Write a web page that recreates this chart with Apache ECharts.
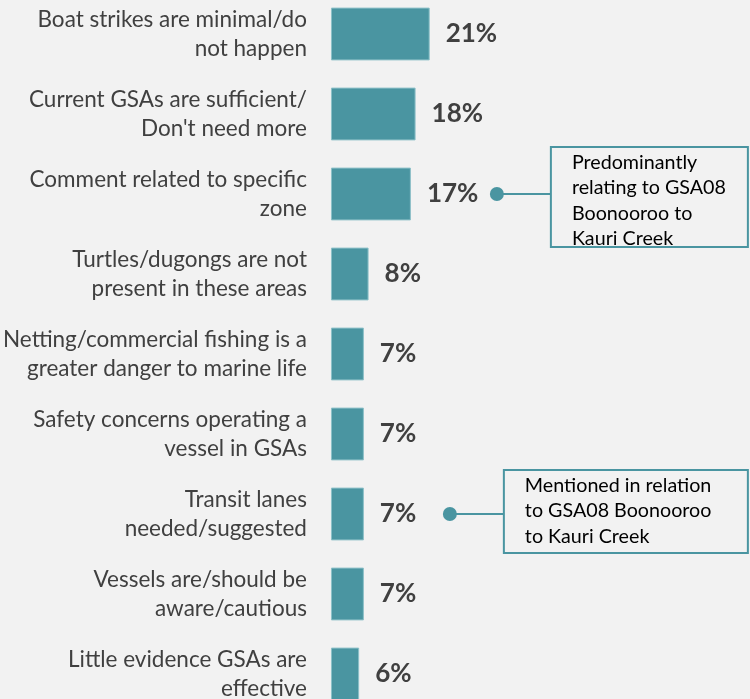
<!DOCTYPE html>
<html><head><meta charset="utf-8">
<script src="https://cdn.jsdelivr.net/npm/echarts@6/dist/echarts.min.js"></script>
<style>html,body{margin:0;padding:0;background:#F2F2F2;overflow:hidden}#c{width:750px;height:726px;margin-top:-6px}</style>
</head><body><div id="c"></div>
<script>
const categories = [
  'Boat strikes are minimal/do\nnot happen',
  'Current GSAs are sufficient/\nDon\'t need more',
  'Comment related to specific\nzone',
  'Turtles/dugongs are not\npresent in these areas',
  'Netting/commercial fishing is a\ngreater danger to marine life',
  'Safety concerns operating a\nvessel in GSAs',
  'Transit lanes\nneeded/suggested',
  'Vessels are/should be\naware/cautious',
  'Little evidence GSAs are\neffective'
];
const values = [21, 18, 17, 8, 7, 7, 7, 7, 6];
const notes = [
  {index: 2, text: 'Predominantly\nrelating to GSA08\nBoonooroo to\nKauri Creek', boxW: 197, top: -47, bottom: 53},
  {index: 6, text: 'Mentioned in relation\nto GSA08 Boonooroo\nto Kauri Creek', boxW: 244, top: -44, bottom: 39}
];
const FONT = 'Lato';
const teal = '#4A95A1';
const chart = echarts.init(document.getElementById('c'));
chart.setOption({
  backgroundColor: '#F2F2F2',
  animation: false,
  grid: {left: 327, top: 0, width: 145, height: 720, containLabel: false},
  xAxis: {type: 'value', min: 0, max: 30, show: false},
  yAxis: {
    type: 'category', data: categories, inverse: true,
    axisLine: {show: false}, axisTick: {show: false},
    axisLabel: {color: '#404040', fontFamily: FONT, fontSize: 22.5, lineHeight: 29, margin: 24, align: 'right'}
  },
  series: [{
    type: 'bar', data: values, barCategoryGap: '34%',
    itemStyle: {color: teal, borderColor: '#8CC0C8', borderWidth: 1},
    label: {show: true, position: 'right', distance: 16, formatter: '{c}%',
      color: '#404040', fontFamily: FONT, fontWeight: 'bold', fontSize: 26}
  }]
});
const g = [];
notes.forEach(n => {
  const p = chart.convertToPixel({seriesIndex: 0}, [values[n.index], n.index]);
  const dx = p[0] + 86, cy = p[1];
  const bx = dx + 54;
  g.push({type: 'line', shape: {x1: dx, y1: cy, x2: bx, y2: cy}, style: {stroke: teal, lineWidth: 2}});
  g.push({type: 'circle', shape: {cx: dx, cy: cy, r: 7}, style: {fill: teal}});
  g.push({type: 'rect', shape: {x: bx, y: cy + n.top, width: n.boxW, height: n.bottom - n.top},
    style: {fill: 'none', stroke: teal, lineWidth: 2}});
  g.push({type: 'text', x: bx + 21, y: cy + n.top + 3,
    style: {text: n.text, fill: '#000', fontFamily: FONT, fontSize: 19.7, lineHeight: 25.3, textVerticalAlign: 'top'}});
});
chart.setOption({graphic: g});
</script></body></html>
